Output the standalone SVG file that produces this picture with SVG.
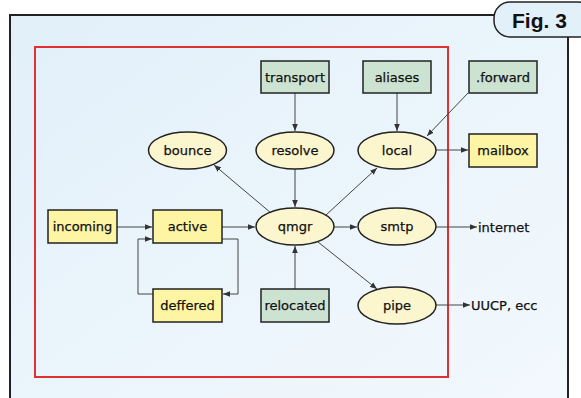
<svg xmlns="http://www.w3.org/2000/svg" width="581" height="398" viewBox="0 0 581 398">
<defs>
<linearGradient id="bg" x1="0" y1="0" x2="1" y2="1">
<stop offset="0" stop-color="#e2f0fa"/>
<stop offset="1" stop-color="#f3f9fd"/>
</linearGradient>
<marker id="ah" viewBox="0 0 10 10" refX="10" refY="5" markerWidth="7" markerHeight="7" markerUnits="userSpaceOnUse" orient="auto">
<path d="M0,1 L10,5 L0,9 z" fill="#333"/>
</marker>
<style>
.lbl{font-family:"DejaVu Sans",Arial,sans-serif;font-size:13px;fill:#111;stroke:#111;stroke-width:0.25;text-anchor:middle;}
.ext{font-family:"DejaVu Sans",Arial,sans-serif;font-size:13px;fill:#111;stroke:#111;stroke-width:0.25;}
.ybox{fill:#fdf5a3;stroke:#222;stroke-width:1.5;}
.gbox{fill:#cde3d2;stroke:#222;stroke-width:1.5;}
.ell{fill:#fcf6cf;stroke:#222;stroke-width:1.5;}
.cn{fill:none;stroke:#444;stroke-width:1;marker-end:url(#ah);}
</style>
</defs>
<rect x="0" y="0" width="581" height="398" fill="#ffffff"/>
<rect x="10" y="15" width="558" height="400" fill="url(#bg)" stroke="#222" stroke-width="2"/>
<g id="figlabel">
<rect x="494" y="2" width="100" height="35" rx="16" ry="16" fill="#e2f0fa" stroke="#222" stroke-width="1.5"/>
<text x="512" y="28" font-family="'Liberation Sans',Arial,sans-serif" font-size="21" font-weight="bold" fill="#111">Fig. 3</text>
</g>
<rect id="boundary" x="35" y="47" width="413" height="330" fill="none" stroke="#e03030" stroke-width="2"/>
<g id="connectors">
<line class="cn" x1="295" y1="93" x2="295" y2="131"/>
<line class="cn" x1="397" y1="93" x2="397" y2="131"/>
<line class="cn" x1="468" y1="93" x2="427" y2="136"/>
<line class="cn" x1="436" y1="150" x2="468" y2="150"/>
<line class="cn" x1="295" y1="169" x2="295" y2="207"/>
<line class="cn" x1="271" y1="213" x2="214" y2="165"/>
<line class="cn" x1="326" y1="215" x2="377" y2="168"/>
<line class="cn" x1="334" y1="227" x2="357" y2="227"/>
<line class="cn" x1="318" y1="242" x2="377" y2="289"/>
<line class="cn" x1="295" y1="289" x2="295" y2="246"/>
<line class="cn" x1="117" y1="227" x2="152" y2="227"/>
<line class="cn" x1="222" y1="227" x2="255" y2="227"/>
<polyline class="cn" points="222,239 238,239 238,294 223,294"/>
<polyline class="cn" points="153,294 138,294 138,239 152,239"/>
<line class="cn" x1="436" y1="227" x2="477" y2="227"/>
<line class="cn" x1="436" y1="305" x2="470" y2="305"/>
</g>
<g id="transport"><rect class="gbox" x="261" y="61" width="68" height="32"/><text class="lbl" x="295" y="82">transport</text></g>
<g id="aliases"><rect class="gbox" x="363" y="61" width="68" height="32"/><text class="lbl" x="397" y="82">aliases</text></g>
<g id="forward"><rect class="gbox" x="469" y="61" width="68" height="32"/><text class="lbl" x="503" y="82">.forward</text></g>
<g id="mailbox"><rect class="ybox" x="469" y="134" width="68" height="33"/><text class="lbl" x="503" y="155">mailbox</text></g>
<g id="bounce"><ellipse class="ell" cx="187.5" cy="150.5" rx="39" ry="18.5"/><text class="lbl" x="187.5" y="155">bounce</text></g>
<g id="resolve"><ellipse class="ell" cx="295" cy="150.5" rx="39" ry="18.5"/><text class="lbl" x="295" y="155">resolve</text></g>
<g id="local"><ellipse class="ell" cx="397" cy="150.5" rx="39" ry="18.5"/><text class="lbl" x="397" y="155">local</text></g>
<g id="incoming"><rect class="ybox" x="48" y="210" width="69" height="33"/><text class="lbl" x="82.5" y="231">incoming</text></g>
<g id="active"><rect class="ybox" x="153" y="210" width="69" height="33"/><text class="lbl" x="187.5" y="231">active</text></g>
<g id="qmgr"><ellipse class="ell" cx="295" cy="226.5" rx="39" ry="18.5"/><text class="lbl" x="295" y="231">qmgr</text></g>
<g id="smtp"><ellipse class="ell" cx="397" cy="226.5" rx="39" ry="18.5"/><text class="lbl" x="397" y="231">smtp</text></g>
<g id="deffered"><rect class="ybox" x="153" y="289" width="69" height="33"/><text class="lbl" x="187.5" y="310">deffered</text></g>
<g id="relocated"><rect class="gbox" x="261" y="289" width="68" height="33"/><text class="lbl" x="295" y="310">relocated</text></g>
<g id="pipe"><ellipse class="ell" cx="397" cy="305.5" rx="39" ry="18.5"/><text class="lbl" x="397" y="310">pipe</text></g>
<g id="internet"><text class="ext" x="478" y="232">internet</text></g>
<g id="uucp"><text class="ext" x="471" y="310">UUCP, ecc</text></g>
</svg>
